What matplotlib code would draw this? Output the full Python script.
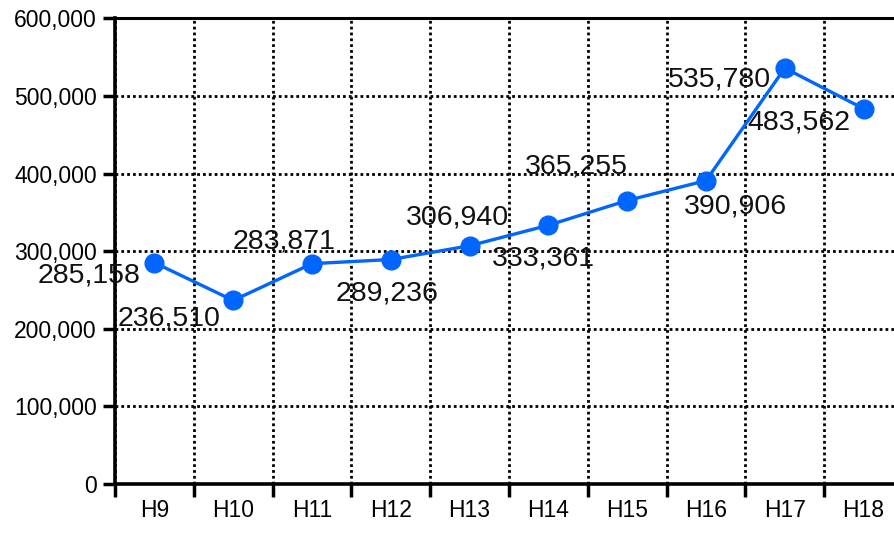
import matplotlib
matplotlib.use('Agg')
import matplotlib.pyplot as plt
from matplotlib.ticker import FuncFormatter

plt.rcParams['font.family'] = ['Liberation Sans', 'DejaVu Sans']

years = ['H9', 'H10', 'H11', 'H12', 'H13', 'H14', 'H15', 'H16', 'H17', 'H18']
values = [285158, 236510, 283871, 289236, 306940, 333361, 365255, 390906, 535780, 483562]
# label offsets from each point, in pixels (dx, dy), dy up
label_offsets = [(-65, -13), (-64, -18), (-28, 22), (-4, -34), (-12, 28),
                 (-5, -33), (-51, 34), (29, -26), (-65, -11), (-65, -14)]

fig = plt.figure(figsize=(8.94, 5.41), dpi=100)
ax = fig.add_axes([115 / 894, 57 / 541, 788 / 894, 465.7 / 541])

x = list(range(len(years)))
ax.plot(x, values, color='#0066FF', linewidth=2.4, marker='o', markersize=13.5, zorder=3)

for xi, v, (dx, dy) in zip(x, values, label_offsets):
    ax.annotate(f'{v:,}', (xi, v), xytext=(dx, dy), textcoords='offset pixels',
                ha='center', va='center', fontsize=20.5, color='#111111', zorder=4)

ax.set_xlim(-0.5, len(years) - 0.5)
ax.set_ylim(0, 600000)
ax.set_yticks(range(0, 600001, 100000))
ax.yaxis.set_major_formatter(FuncFormatter(lambda v, p: f'{int(v):,}'))

# category boundaries carry the ticks and vertical grid
ax.set_xticks([i - 0.5 for i in range(len(years) + 1)])
ax.set_xticklabels([])
ax.set_xticks(x, minor=True)
ax.set_xticklabels(years, minor=True)
ax.tick_params(axis='x', which='minor', length=0, labelsize=16.5, pad=11)
ax.tick_params(axis='x', which='major', length=9, width=2.5, direction='out')
ax.tick_params(axis='y', length=9, width=2.5, direction='out', labelsize=16.5, pad=4)

ax.grid(True, which='major', color='black', linewidth=2.0, linestyle=(0, (1, 1.1)))
ax.set_axisbelow(True)

for s in ax.spines.values():
    s.set_linewidth(2.6)
    s.set_color('black')
ax.spines['top'].set_linewidth(2.2)

fig.savefig('out.png', dpi=100)
